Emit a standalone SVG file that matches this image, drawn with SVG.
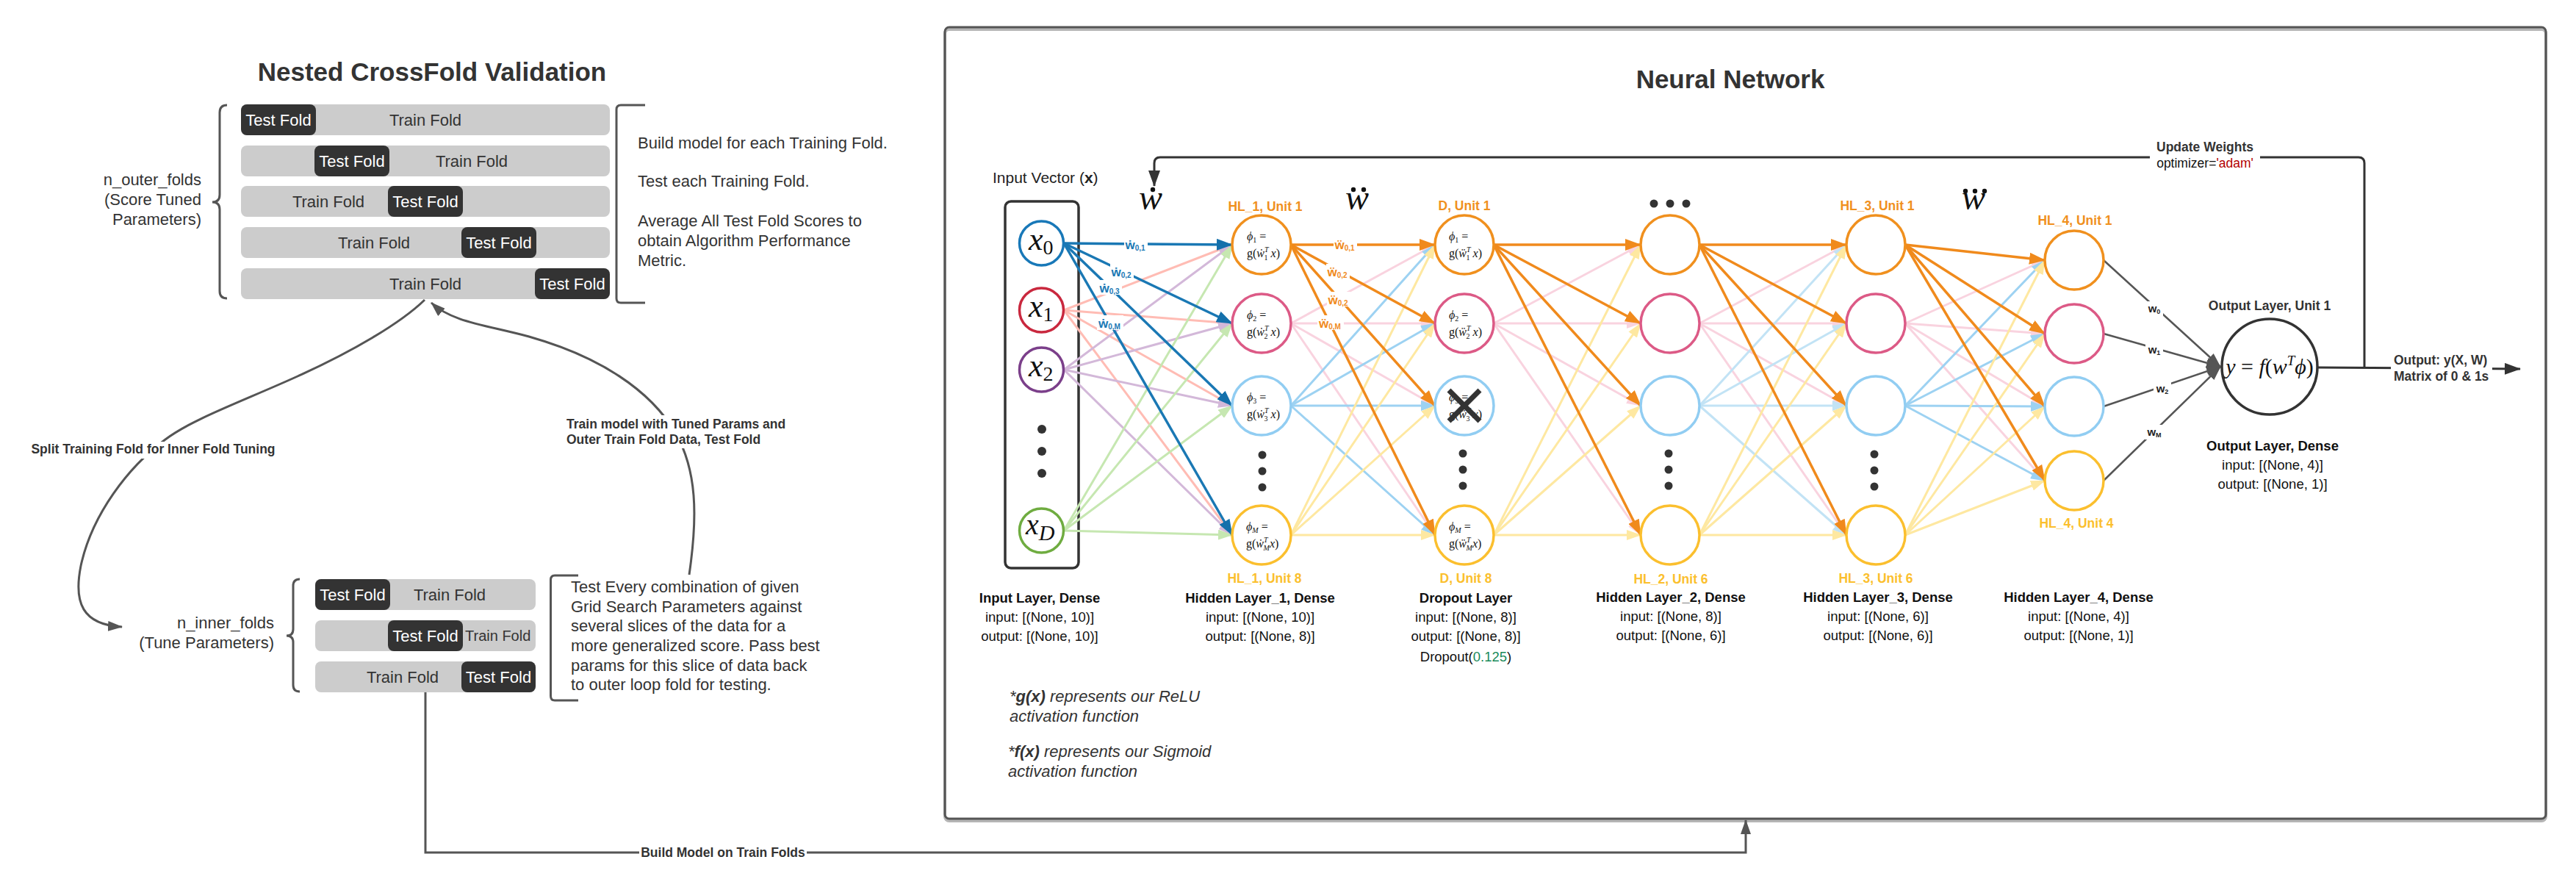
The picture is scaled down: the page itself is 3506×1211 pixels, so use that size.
<svg xmlns="http://www.w3.org/2000/svg" width="3506" height="1211" viewBox="0 0 3506 1211">
<defs>
<marker id="m-blue" markerUnits="userSpaceOnUse" markerWidth="22" markerHeight="16" refX="21" refY="8" orient="auto"><path d="M0,0 L22,8 L0,16 z" fill="#1470ab"/></marker>
<marker id="m-orange" markerUnits="userSpaceOnUse" markerWidth="22" markerHeight="16" refX="21" refY="8" orient="auto"><path d="M0,0 L22,8 L0,16 z" fill="#f08a1c"/></marker>
<marker id="m-salmon" markerUnits="userSpaceOnUse" markerWidth="20" markerHeight="14" refX="19" refY="7" orient="auto"><path d="M0,0 L20,7 L0,14 z" fill="#ffbcb4"/></marker>
<marker id="m-lav" markerUnits="userSpaceOnUse" markerWidth="20" markerHeight="14" refX="19" refY="7" orient="auto"><path d="M0,0 L20,7 L0,14 z" fill="#d3b8d9"/></marker>
<marker id="m-green" markerUnits="userSpaceOnUse" markerWidth="20" markerHeight="14" refX="19" refY="7" orient="auto"><path d="M0,0 L20,7 L0,14 z" fill="#c6e7b1"/></marker>
<marker id="m-pink" markerUnits="userSpaceOnUse" markerWidth="20" markerHeight="14" refX="19" refY="7" orient="auto"><path d="M0,0 L20,7 L0,14 z" fill="#f9d3df"/></marker>
<marker id="m-lblue" markerUnits="userSpaceOnUse" markerWidth="20" markerHeight="14" refX="19" refY="7" orient="auto"><path d="M0,0 L20,7 L0,14 z" fill="#9dd2f2"/></marker>
<marker id="m-pblue" markerUnits="userSpaceOnUse" markerWidth="20" markerHeight="14" refX="19" refY="7" orient="auto"><path d="M0,0 L20,7 L0,14 z" fill="#c2e3f5"/></marker>
<marker id="m-yellow" markerUnits="userSpaceOnUse" markerWidth="20" markerHeight="14" refX="19" refY="7" orient="auto"><path d="M0,0 L20,7 L0,14 z" fill="#fee8a1"/></marker>
<marker id="m-gray" markerUnits="userSpaceOnUse" markerWidth="20" markerHeight="14" refX="19" refY="7" orient="auto"><path d="M0,0 L20,7 L0,14 z" fill="#555555"/></marker>
<marker id="m-dark" markerUnits="userSpaceOnUse" markerWidth="22" markerHeight="16" refX="21" refY="8" orient="auto"><path d="M0,0 L22,8 L0,16 z" fill="#333333"/></marker>
</defs>
<style>
text{font-family:"Liberation Sans",Arial,sans-serif}
.t22{font-size:22px;fill:#333}
.title{font-size:35px;font-weight:bold;fill:#333}
.lbl{font-size:17.5px;font-weight:bold;fill:#333}
.bar{fill:#cccccc}
.test{fill:#333333}
.tw{font-size:22px;fill:#ffffff;text-anchor:middle}
.tr{font-size:22px;fill:#333;text-anchor:middle}
.brace{fill:none;stroke:#555;stroke-width:3}
.conn{fill:none;stroke:#555;stroke-width:3}
.e{stroke-width:3}
.et{stroke-width:3.5}
.blue{stroke:#1a78b4;marker-end:url(#m-blue)}
.orange{stroke:#f08a1c;marker-end:url(#m-orange)}
.salmon{stroke:#ffbcb4;marker-end:url(#m-salmon)}
.lav{stroke:#d3b8d9;marker-end:url(#m-lav)}
.green{stroke:#c6e7b1;marker-end:url(#m-green)}
.pink{stroke:#f9d3df;marker-end:url(#m-pink)}
.lblue{stroke:#9dd2f2;marker-end:url(#m-lblue)}
.pblue{stroke:#c2e3f5;marker-end:url(#m-pblue)}
.yellow{stroke:#fee8a1;marker-end:url(#m-yellow)}
.gray{stroke:#555555;stroke-width:2.5;marker-end:url(#m-gray)}
.node{fill:#ffffff;stroke-width:3.5}
.m{font-family:"Liberation Serif","DejaVu Serif",serif;font-size:16px;fill:#111}
.serif{font-family:"Liberation Serif","DejaVu Serif",serif;fill:#111}
.big{font-size:48px;font-style:italic;text-anchor:middle}
.xin{font-size:44px;font-style:italic}
.ul{font-size:17.5px;font-weight:bold;text-anchor:middle}
.lh{font-size:18.5px;font-weight:bold;fill:#111;text-anchor:middle}
.ls{font-size:18.5px;fill:#111;text-anchor:middle}
.wl{font-size:17px;font-weight:bold;text-anchor:middle}
.ws{font-size:10px}
.dot{fill:#333}
.bg{fill:#ffffff}
.it{font-size:22px;font-style:italic;fill:#333}
</style>
<rect width="3506" height="1211" fill="#ffffff"/>

<!-- Left panel: Nested CrossFold Validation -->
<text class="title" x="588" y="110" text-anchor="middle">Nested CrossFold Validation</text>

<g id="outer-folds">
<g id="outer-row1"><rect class="bar" x="328" y="142" width="502" height="42" rx="8"/><rect class="test" x="328" y="142" width="102" height="42" rx="8"/><text class="tw" x="379" y="171">Test Fold</text><text class="tr" x="579" y="171">Train Fold</text></g>
<g id="outer-row2"><rect class="bar" x="328" y="198" width="502" height="42" rx="8"/><rect class="test" x="428" y="198" width="102" height="42" rx="8"/><text class="tw" x="479" y="227">Test Fold</text><text class="tr" x="642" y="227">Train Fold</text></g>
<g id="outer-row3"><rect class="bar" x="328" y="253" width="502" height="42" rx="8"/><rect class="test" x="528" y="253" width="102" height="42" rx="8"/><text class="tw" x="579" y="282">Test Fold</text><text class="tr" x="447" y="282">Train Fold</text></g>
<g id="outer-row4"><rect class="bar" x="328" y="309" width="502" height="42" rx="8"/><rect class="test" x="628" y="309" width="102" height="42" rx="8"/><text class="tw" x="679" y="338">Test Fold</text><text class="tr" x="509" y="338">Train Fold</text></g>
<g id="outer-row5"><rect class="bar" x="328" y="365" width="502" height="42" rx="8"/><rect class="test" x="728" y="365" width="102" height="42" rx="8"/><text class="tw" x="779" y="394">Test Fold</text><text class="tr" x="579" y="394">Train Fold</text></g>
</g>

<g id="outer-label">
<path class="brace" d="M309,143 Q299,143 299,153 L299,265 Q299,275 289,275 Q299,275 299,285 L299,396 Q299,406 309,406"/>
<text class="t22" x="274" y="252" text-anchor="end">n_outer_folds</text>
<text class="t22" x="274" y="279" text-anchor="end">(Score Tuned</text>
<text class="t22" x="274" y="306" text-anchor="end">Parameters)</text>
</g>

<g id="outer-note">
<path class="brace" stroke-width="3.5" d="M878,143 L845,143 Q839,143 839,149 L839,406 Q839,412 845,412 L878,412"/>
<text class="t22" x="868" y="202">Build model for each Training Fold.</text>
<text class="t22" x="868" y="254">Test each Training Fold.</text>
<text class="t22" x="868" y="308">Average All Test Fold Scores to</text>
<text class="t22" x="868" y="335">obtain Algorithm Performance</text>
<text class="t22" x="868" y="362">Metric.</text>
</g>

<g id="inner-folds">
<g id="inner-row1"><rect class="bar" x="429" y="788" width="300" height="42" rx="8"/><rect class="test" x="429" y="788" width="102" height="42" rx="8"/><text class="tw" x="480" y="817">Test Fold</text><text class="tr" x="612" y="817">Train Fold</text></g>
<g id="inner-row2"><rect class="bar" x="429" y="844" width="300" height="42" rx="8"/><rect class="test" x="528" y="844" width="102" height="42" rx="8"/><text class="tw" x="579" y="873">Test Fold</text><text x="633" y="872" font-size="20" fill="#333">Train Fold</text></g>
<g id="inner-row3"><rect class="bar" x="429" y="900" width="300" height="42" rx="8"/><rect class="test" x="628" y="900" width="101" height="42" rx="8"/><text class="tw" x="678.5" y="929">Test Fold</text><text class="tr" x="548" y="929">Train Fold</text></g>
</g>

<g id="inner-label">
<path class="brace" d="M408,788 Q399,788 399,797 L399,856 Q399,865 390,865 Q399,865 399,874 L399,932 Q399,941 408,941"/>
<text class="t22" x="373" y="855" text-anchor="end">n_inner_folds</text>
<text class="t22" x="373" y="882" text-anchor="end">(Tune Parameters)</text>
</g>

<g id="inner-note">
<path class="brace" stroke-width="3.5" d="M787,783 L755,783 Q749.5,783 749.5,789 L749.5,947 Q749.5,953 755,953 L787,953"/>
<text class="t22" x="777" y="806">Test Every combination of given</text>
<text class="t22" x="777" y="833">Grid Search Parameters against</text>
<text class="t22" x="777" y="859">several slices of the data for a</text>
<text class="t22" x="777" y="886">more generalized score. Pass best</text>
<text class="t22" x="777" y="913">params for this slice of data back</text>
<text class="t22" x="777" y="939">to outer loop fold for testing.</text>
</g>

<!-- Neural network frame -->
<g id="nn-frame">
<rect x="1286" y="40" width="2179" height="1077" rx="6" fill="none" stroke="#b5b5b5" stroke-width="4"/>
<rect x="1286" y="37" width="2179" height="1077" rx="6" fill="none" stroke="#555" stroke-width="3"/>
<text class="title" x="2355" y="120" text-anchor="middle">Neural Network</text>
</g>

<g id="input-box">
<text x="1351" y="249" font-size="21" fill="#222">Input Vector (<tspan font-weight="bold">x</tspan>)</text>
<rect x="1368" y="274" width="100" height="499" rx="8" fill="none" stroke="#333" stroke-width="3.5"/>
</g>

<!-- connectors -->
<g id="connectors">
<path class="conn" d="M578,408 C545,440 480,478 405,512 C330,546 262,570 225,598 C175,635 125,700 110,770 C100,820 112,850 166,853" marker-end="url(#m-gray)"/>
<path class="conn" d="M938,782 C950,700 948,640 920,590 C885,530 815,485 720,458 C660,442 615,438 587,412" marker-end="url(#m-gray)"/>
<path class="conn" d="M579,942 L579,1160 L2376,1160 L2376,1116" marker-end="url(#m-gray)"/>
<path fill="none" stroke="#333" stroke-width="3" d="M3218,500 L3218,222 Q3218,214 3210,214 L1579,214 Q1571,214 1571,222 L1571,253" marker-end="url(#m-dark)"/>
<line x1="3154" y1="500" x2="3430" y2="502" stroke="#333" stroke-width="3" marker-end="url(#m-dark)"/>

<!-- input -> HL1 -->
<line class="e salmon" x1="1448" y1="422" x2="1677" y2="333"/>
<line class="e salmon" x1="1448" y1="422" x2="1677" y2="440"/>
<line class="e salmon" x1="1448" y1="422" x2="1677" y2="552"/>
<line class="e salmon" x1="1448" y1="422" x2="1677" y2="728"/>
<line class="e lav" x1="1448" y1="503" x2="1677" y2="333"/>
<line class="e lav" x1="1448" y1="503" x2="1677" y2="440"/>
<line class="e lav" x1="1448" y1="503" x2="1677" y2="552"/>
<line class="e lav" x1="1448" y1="503" x2="1677" y2="728"/>
<line class="e green" x1="1448" y1="722" x2="1677" y2="333"/>
<line class="e green" x1="1448" y1="722" x2="1677" y2="440"/>
<line class="e green" x1="1448" y1="722" x2="1677" y2="552"/>
<line class="e green" x1="1448" y1="722" x2="1677" y2="728"/>
<line class="et blue" x1="1448" y1="331" x2="1677" y2="333"/>
<line class="et blue" x1="1448" y1="331" x2="1677" y2="440"/>
<line class="et blue" x1="1448" y1="331" x2="1677" y2="552"/>
<line class="et blue" x1="1448" y1="331" x2="1677" y2="728"/>

<!-- HL1 -> Dropout -->
<line class="e pink" x1="1757" y1="440" x2="1953" y2="333"/>
<line class="e pink" x1="1757" y1="440" x2="1953" y2="440"/>
<line class="e pink" x1="1757" y1="440" x2="1953" y2="552"/>
<line class="e pink" x1="1757" y1="440" x2="1953" y2="728"/>
<line class="e lblue" x1="1757" y1="552" x2="1953" y2="333"/>
<line class="e lblue" x1="1757" y1="552" x2="1953" y2="440"/>
<line class="e lblue" x1="1757" y1="552" x2="1953" y2="552"/>
<line class="e lblue" x1="1757" y1="552" x2="1953" y2="728"/>
<line class="e yellow" x1="1757" y1="728" x2="1953" y2="333"/>
<line class="e yellow" x1="1757" y1="728" x2="1953" y2="440"/>
<line class="e yellow" x1="1757" y1="728" x2="1953" y2="552"/>
<line class="e yellow" x1="1757" y1="728" x2="1953" y2="728"/>
<line class="et orange" x1="1757" y1="333" x2="1953" y2="333"/>
<line class="et orange" x1="1757" y1="333" x2="1953" y2="440"/>
<line class="et orange" x1="1757" y1="333" x2="1953" y2="552"/>
<line class="et orange" x1="1757" y1="333" x2="1953" y2="728"/>

<!-- Dropout -> HL2 -->
<line class="e pink" x1="2033" y1="440" x2="2233" y2="333"/>
<line class="e pink" x1="2033" y1="440" x2="2233" y2="440"/>
<line class="e pink" x1="2033" y1="440" x2="2233" y2="552"/>
<line class="e pink" x1="2033" y1="440" x2="2233" y2="728"/>
<line class="e yellow" x1="2033" y1="728" x2="2233" y2="333"/>
<line class="e yellow" x1="2033" y1="728" x2="2233" y2="440"/>
<line class="e yellow" x1="2033" y1="728" x2="2233" y2="552"/>
<line class="e yellow" x1="2033" y1="728" x2="2233" y2="728"/>
<line class="et orange" x1="2033" y1="333" x2="2233" y2="333"/>
<line class="et orange" x1="2033" y1="333" x2="2233" y2="440"/>
<line class="et orange" x1="2033" y1="333" x2="2233" y2="552"/>
<line class="et orange" x1="2033" y1="333" x2="2233" y2="728"/>

<!-- HL2 -> HL3 -->
<line class="e pink" x1="2313" y1="440" x2="2513" y2="333"/>
<line class="e pink" x1="2313" y1="440" x2="2513" y2="440"/>
<line class="e pink" x1="2313" y1="440" x2="2513" y2="552"/>
<line class="e pink" x1="2313" y1="440" x2="2513" y2="728"/>
<line class="e pblue" x1="2313" y1="552" x2="2513" y2="333"/>
<line class="e pblue" x1="2313" y1="552" x2="2513" y2="440"/>
<line class="e pblue" x1="2313" y1="552" x2="2513" y2="552"/>
<line class="e pblue" x1="2313" y1="552" x2="2513" y2="728"/>
<line class="e yellow" x1="2313" y1="728" x2="2513" y2="333"/>
<line class="e yellow" x1="2313" y1="728" x2="2513" y2="440"/>
<line class="e yellow" x1="2313" y1="728" x2="2513" y2="552"/>
<line class="e yellow" x1="2313" y1="728" x2="2513" y2="728"/>
<line class="et orange" x1="2313" y1="333" x2="2513" y2="333"/>
<line class="et orange" x1="2313" y1="333" x2="2513" y2="440"/>
<line class="et orange" x1="2313" y1="333" x2="2513" y2="552"/>
<line class="et orange" x1="2313" y1="333" x2="2513" y2="728"/>

<!-- HL3 -> HL4 -->
<line class="e pink" x1="2593" y1="440" x2="2783" y2="354"/>
<line class="e pink" x1="2593" y1="440" x2="2783" y2="454"/>
<line class="e pink" x1="2593" y1="440" x2="2783" y2="553"/>
<line class="e pink" x1="2593" y1="440" x2="2783" y2="654"/>
<line class="e lblue" x1="2593" y1="552" x2="2783" y2="354"/>
<line class="e lblue" x1="2593" y1="552" x2="2783" y2="454"/>
<line class="e lblue" x1="2593" y1="552" x2="2783" y2="553"/>
<line class="e lblue" x1="2593" y1="552" x2="2783" y2="654"/>
<line class="e yellow" x1="2593" y1="728" x2="2783" y2="354"/>
<line class="e yellow" x1="2593" y1="728" x2="2783" y2="454"/>
<line class="e yellow" x1="2593" y1="728" x2="2783" y2="553"/>
<line class="e yellow" x1="2593" y1="728" x2="2783" y2="654"/>
<line class="et orange" x1="2593" y1="333" x2="2783" y2="354"/>
<line class="et orange" x1="2593" y1="333" x2="2783" y2="454"/>
<line class="et orange" x1="2593" y1="333" x2="2783" y2="553"/>
<line class="et orange" x1="2593" y1="333" x2="2783" y2="654"/>

<!-- HL4 -> output -->
<line class="gray" x1="2863" y1="354" x2="3022" y2="499"/>
<line class="gray" x1="2863" y1="454" x2="3022" y2="499"/>
<line class="gray" x1="2863" y1="553" x2="3022" y2="499"/>
<line class="gray" x1="2863" y1="654" x2="3022" y2="499"/>
</g>

<!-- connector labels -->
<g id="connector-labels">
<rect class="bg" x="38" y="601" width="342" height="23"/>
<text class="lbl" x="208.5" y="617" text-anchor="middle">Split Training Fold for Inner Fold Tuning</text>
<rect class="bg" x="767" y="565" width="310" height="45"/>
<text class="lbl" x="771" y="583">Train model with Tuned Params and</text>
<text class="lbl" x="771" y="604">Outer Train Fold Data, Test Fold</text>
<rect class="bg" x="870" y="1149" width="228" height="22"/>
<text class="lbl" x="984" y="1166" text-anchor="middle">Build Model on Train Folds</text>
<rect class="bg" x="2926" y="188" width="150" height="46"/>
<text class="lbl" x="3001" y="206" text-anchor="middle">Update Weights</text>
<text x="3001" y="228" font-size="17.5" fill="#111" text-anchor="middle">optimizer=<tspan fill="#b30000">'adam'</tspan></text>
<rect class="bg" x="3254" y="478" width="138" height="46"/>
<text class="lbl" x="3258" y="496">Output: y(X, W)</text>
<text class="lbl" x="3258" y="518">Matrix of 0 &amp; 1s</text>

<rect class="bg" x="1530" y="322" width="32" height="20"/>
<text class="wl" x="1545" y="339" fill="#1a78b4">ẇ<tspan class="ws" dy="2">0,1</tspan></text>
<rect class="bg" x="1511" y="359" width="32" height="20"/>
<text class="wl" x="1526" y="376" fill="#1a78b4">ẇ<tspan class="ws" dy="2">0,2</tspan></text>
<rect class="bg" x="1495" y="381" width="32" height="20"/>
<text class="wl" x="1510" y="398" fill="#1a78b4">ẇ<tspan class="ws" dy="2">0,3</tspan></text>
<rect class="bg" x="1493" y="429" width="36" height="20"/>
<text class="wl" x="1510" y="446" fill="#1a78b4">ẇ<tspan class="ws" dy="2">0,M</tspan></text>

<rect class="bg" x="1815" y="322" width="32" height="20"/>
<text class="wl" x="1830" y="339" fill="#f08a1c">ẅ<tspan class="ws" dy="2">0,1</tspan></text>
<rect class="bg" x="1805" y="359" width="32" height="20"/>
<text class="wl" x="1820" y="376" fill="#f08a1c">ẅ<tspan class="ws" dy="2">0,2</tspan></text>
<rect class="bg" x="1806" y="397" width="32" height="20"/>
<text class="wl" x="1821" y="414" fill="#f08a1c">ẅ<tspan class="ws" dy="2">0,2</tspan></text>
<rect class="bg" x="1793" y="429" width="36" height="20"/>
<text class="wl" x="1810" y="446" fill="#f08a1c">ẅ<tspan class="ws" dy="2">0,M</tspan></text>

<rect class="bg" x="2920" y="410" width="24" height="20"/>
<text x="2932" y="425" font-size="15" font-weight="bold" fill="#222" text-anchor="middle">w<tspan font-size="9" dy="2">0</tspan></text>
<rect class="bg" x="2920" y="466" width="24" height="20"/>
<text x="2932" y="481" font-size="15" font-weight="bold" fill="#222" text-anchor="middle">w<tspan font-size="9" dy="2">1</tspan></text>
<rect class="bg" x="2931" y="519" width="24" height="20"/>
<text x="2943" y="534" font-size="15" font-weight="bold" fill="#222" text-anchor="middle">w<tspan font-size="9" dy="2">2</tspan></text>
<rect class="bg" x="2919" y="578" width="26" height="20"/>
<text x="2932" y="593" font-size="15" font-weight="bold" fill="#222" text-anchor="middle">w<tspan font-size="9" dy="2">M</tspan></text>
</g>

<!-- weight matrix symbols -->
<g id="w-symbols">
<text class="serif big" x="1566" y="285">w</text>
<circle cx="1569" cy="258" r="3.2" fill="#111"/>
<text class="serif big" x="1847" y="285">w</text>
<circle cx="1842" cy="258" r="3.2" fill="#111"/><circle cx="1856" cy="258" r="3.2" fill="#111"/>
<text class="serif big" x="2686" y="285">w</text>
<circle cx="2675" cy="260" r="3.2" fill="#111"/><circle cx="2688" cy="260" r="3.2" fill="#111"/><circle cx="2701" cy="260" r="3.2" fill="#111"/>
</g>

<!-- Input layer nodes -->
<g id="input-x0"><circle class="node" cx="1417.5" cy="331" r="30" stroke="#1878b8"/><text class="serif xin" x="1400" y="340">x<tspan font-style="normal" font-size="28" dy="6">0</tspan></text></g>
<g id="input-x1"><circle class="node" cx="1417.5" cy="422" r="30" stroke="#c9283e"/><text class="serif xin" x="1400" y="431">x<tspan font-style="normal" font-size="28" dy="6">1</tspan></text></g>
<g id="input-x2"><circle class="node" cx="1417.5" cy="503" r="30" stroke="#7b3f8a"/><text class="serif xin" x="1400" y="512">x<tspan font-style="normal" font-size="28" dy="6">2</tspan></text></g>
<g id="input-dots"><circle class="dot" cx="1418" cy="584" r="6"/><circle class="dot" cx="1418" cy="614" r="6"/><circle class="dot" cx="1418" cy="644" r="6"/></g>
<g id="input-xD"><circle class="node" cx="1417.5" cy="722" r="30" stroke="#6fac40"/><text class="serif xin" x="1396" y="727" style="font-size:40px">x<tspan font-size="30" dy="8">D</tspan></text></g>
<g id="input-layer-label">
<text class="lh" x="1415" y="820">Input Layer, Dense</text>
<text class="ls" x="1415" y="846">input: [(None, 10)]</text>
<text class="ls" x="1415" y="872">output: [(None, 10)]</text>
</g>

<!-- Hidden layer 1 -->
<g id="hl1-u1"><text class="ul" x="1722" y="287" fill="#f0901e">HL_1, Unit 1</text><circle class="node" cx="1717" cy="333" r="40" stroke="#f0901e"/>
<text class="m" x="1697" y="327"><tspan font-style="italic">ϕ</tspan><tspan font-size="10" dy="3">1</tspan><tspan dy="-3"> =</tspan></text>
<text class="m" x="1697" y="350">g(<tspan font-style="italic">ẇ</tspan><tspan font-size="10" font-style="italic" dy="-7">T</tspan><tspan font-size="10" dx="-6" dy="11">1</tspan><tspan dy="-4" font-style="italic"> x</tspan>)</text></g>
<g id="hl1-u2"><circle class="node" cx="1717" cy="440" r="40" stroke="#dc5a86"/>
<text class="m" x="1697" y="434"><tspan font-style="italic">ϕ</tspan><tspan font-size="10" dy="3">2</tspan><tspan dy="-3"> =</tspan></text>
<text class="m" x="1697" y="457">g(<tspan font-style="italic">ẇ</tspan><tspan font-size="10" font-style="italic" dy="-7">T</tspan><tspan font-size="10" dx="-6" dy="11">2</tspan><tspan dy="-4" font-style="italic"> x</tspan>)</text></g>
<g id="hl1-u3"><circle class="node" cx="1717" cy="552" r="40" stroke="#91cdf2"/>
<text class="m" x="1697" y="546"><tspan font-style="italic">ϕ</tspan><tspan font-size="10" dy="3">3</tspan><tspan dy="-3"> =</tspan></text>
<text class="m" x="1697" y="569">g(<tspan font-style="italic">ẇ</tspan><tspan font-size="10" font-style="italic" dy="-7">T</tspan><tspan font-size="10" dx="-6" dy="11">3</tspan><tspan dy="-4" font-style="italic"> x</tspan>)</text></g>
<g id="hl1-dots"><circle class="dot" cx="1718" cy="619" r="5.5"/><circle class="dot" cx="1718" cy="641" r="5.5"/><circle class="dot" cx="1718" cy="663" r="5.5"/></g>
<g id="hl1-u8"><circle class="node" cx="1717" cy="728" r="40" stroke="#fbbf2e"/>
<text class="m" x="1696" y="722"><tspan font-style="italic">ϕ</tspan><tspan font-size="10" font-style="italic" dy="3">M</tspan><tspan dy="-3"> =</tspan></text>
<text class="m" x="1696" y="745">g(<tspan font-style="italic">ẇ</tspan><tspan font-size="10" font-style="italic" dy="-7">T</tspan><tspan font-size="10" font-style="italic" dx="-6" dy="11">M</tspan><tspan dy="-4" font-style="italic">x</tspan>)</text>
<text class="ul" x="1721" y="793" fill="#fbbf2e">HL_1, Unit 8</text></g>
<g id="hl1-label">
<text class="lh" x="1715" y="820">Hidden Layer_1, Dense</text>
<text class="ls" x="1715" y="846">input: [(None, 10)]</text>
<text class="ls" x="1715" y="872">output: [(None, 8)]</text>
</g>

<!-- Dropout layer -->
<g id="d-u1"><text class="ul" x="1993" y="286" fill="#f0901e">D, Unit 1</text><circle class="node" cx="1993" cy="333" r="40" stroke="#f0901e"/>
<text class="m" x="1972" y="327"><tspan font-style="italic">ϕ</tspan><tspan font-size="10" dy="3">1</tspan><tspan dy="-3"> =</tspan></text>
<text class="m" x="1972" y="350">g(<tspan font-style="italic">ẅ</tspan><tspan font-size="10" font-style="italic" dy="-7">T</tspan><tspan font-size="10" dx="-6" dy="11">1</tspan><tspan dy="-4" font-style="italic"> x</tspan>)</text></g>
<g id="d-u2"><circle class="node" cx="1993" cy="440" r="40" stroke="#dc5a86"/>
<text class="m" x="1972" y="434"><tspan font-style="italic">ϕ</tspan><tspan font-size="10" dy="3">2</tspan><tspan dy="-3"> =</tspan></text>
<text class="m" x="1972" y="457">g(<tspan font-style="italic">ẅ</tspan><tspan font-size="10" font-style="italic" dy="-7">T</tspan><tspan font-size="10" dx="-6" dy="11">2</tspan><tspan dy="-4" font-style="italic"> x</tspan>)</text></g>
<g id="d-u3"><circle class="node" cx="1993" cy="552" r="40" stroke="#91cdf2"/>
<text class="m" x="1972" y="546"><tspan font-style="italic">ϕ</tspan><tspan font-size="10" dy="3">3</tspan><tspan dy="-3"> =</tspan></text>
<text class="m" x="1972" y="569">g(<tspan font-style="italic">ẅ</tspan><tspan font-size="10" font-style="italic" dy="-7">T</tspan><tspan font-size="10" dx="-6" dy="11">3</tspan><tspan dy="-4" font-style="italic"> x</tspan>)</text>
<line x1="1972" y1="531" x2="2014" y2="573" stroke="#333" stroke-width="7"/><line x1="2014" y1="531" x2="1972" y2="573" stroke="#333" stroke-width="7"/></g>
<g id="d-dots"><circle class="dot" cx="1991" cy="617" r="5.5"/><circle class="dot" cx="1991" cy="639" r="5.5"/><circle class="dot" cx="1991" cy="661" r="5.5"/></g>
<g id="d-u8"><circle class="node" cx="1993" cy="728" r="40" stroke="#fbbf2e"/>
<text class="m" x="1972" y="722"><tspan font-style="italic">ϕ</tspan><tspan font-size="10" font-style="italic" dy="3">M</tspan><tspan dy="-3"> =</tspan></text>
<text class="m" x="1972" y="745">g(<tspan font-style="italic">ẅ</tspan><tspan font-size="10" font-style="italic" dy="-7">T</tspan><tspan font-size="10" font-style="italic" dx="-6" dy="11">M</tspan><tspan dy="-4" font-style="italic">x</tspan>)</text>
<text class="ul" x="1995" y="793" fill="#fbbf2e">D, Unit 8</text></g>
<g id="d-label">
<text class="lh" x="1995" y="820">Dropout Layer</text>
<text class="ls" x="1995" y="846">input: [(None, 8)]</text>
<text class="ls" x="1995" y="872">output: [(None, 8)]</text>
<text class="ls" x="1995" y="900">Dropout(<tspan fill="#1a8a5a">0.125</tspan>)</text>
</g>

<!-- Hidden layer 2 -->
<g id="hl2-topdots"><circle class="dot" cx="2251" cy="277" r="5.5"/><circle class="dot" cx="2273" cy="277" r="5.5"/><circle class="dot" cx="2295" cy="277" r="5.5"/></g>
<g id="hl2-u1"><circle class="node" cx="2273" cy="333" r="40" stroke="#f0901e"/></g>
<g id="hl2-u2"><circle class="node" cx="2273" cy="440" r="40" stroke="#dc5a86"/></g>
<g id="hl2-u3"><circle class="node" cx="2273" cy="552" r="40" stroke="#91cdf2"/></g>
<g id="hl2-dots"><circle class="dot" cx="2271" cy="617" r="5.5"/><circle class="dot" cx="2271" cy="639" r="5.5"/><circle class="dot" cx="2271" cy="661" r="5.5"/></g>
<g id="hl2-u6"><circle class="node" cx="2273" cy="728" r="40" stroke="#fbbf2e"/><text class="ul" x="2274" y="794" fill="#fbbf2e">HL_2, Unit 6</text></g>
<g id="hl2-label">
<text class="lh" x="2274" y="819">Hidden Layer_2, Dense</text>
<text class="ls" x="2274" y="845">input: [(None, 8)]</text>
<text class="ls" x="2274" y="871">output: [(None, 6)]</text>
</g>

<!-- Hidden layer 3 -->
<g id="hl3-u1"><text class="ul" x="2555" y="286" fill="#f0901e">HL_3, Unit 1</text><circle class="node" cx="2553" cy="333" r="40" stroke="#f0901e"/></g>
<g id="hl3-u2"><circle class="node" cx="2553" cy="440" r="40" stroke="#dc5a86"/></g>
<g id="hl3-u3"><circle class="node" cx="2553" cy="552" r="40" stroke="#91cdf2"/></g>
<g id="hl3-dots"><circle class="dot" cx="2551" cy="618" r="5.5"/><circle class="dot" cx="2551" cy="640" r="5.5"/><circle class="dot" cx="2551" cy="662" r="5.5"/></g>
<g id="hl3-u6"><circle class="node" cx="2553" cy="728" r="40" stroke="#fbbf2e"/><text class="ul" x="2553" y="793" fill="#fbbf2e">HL_3, Unit 6</text></g>
<g id="hl3-label">
<text class="lh" x="2556" y="819">Hidden Layer_3, Dense</text>
<text class="ls" x="2556" y="845">input: [(None, 6)]</text>
<text class="ls" x="2556" y="871">output: [(None, 6)]</text>
</g>

<!-- Hidden layer 4 -->
<g id="hl4-u1"><text class="ul" x="2824" y="306" fill="#f0901e">HL_4, Unit 1</text><circle class="node" cx="2823" cy="354" r="40" stroke="#f0901e"/></g>
<g id="hl4-u2"><circle class="node" cx="2823" cy="454" r="40" stroke="#dc5a86"/></g>
<g id="hl4-u3"><circle class="node" cx="2823" cy="553" r="40" stroke="#91cdf2"/></g>
<g id="hl4-u4"><circle class="node" cx="2823" cy="654" r="40" stroke="#fbbf2e"/><text class="ul" x="2826" y="718" fill="#fbbf2e">HL_4, Unit 4</text></g>
<g id="hl4-label">
<text class="lh" x="2829" y="819">Hidden Layer_4, Dense</text>
<text class="ls" x="2829" y="845">input: [(None, 4)]</text>
<text class="ls" x="2829" y="871">output: [(None, 1)]</text>
</g>

<!-- Output layer -->
<g id="output-u1">
<text class="lbl" x="3089" y="422" text-anchor="middle">Output Layer, Unit 1</text>
<circle class="node" cx="3089" cy="499" r="65" stroke="#333"/>
<text class="m" x="3089" y="509" style="font-size:30px" text-anchor="middle"><tspan font-style="italic">y</tspan> = <tspan font-style="italic">f</tspan>(<tspan font-style="italic">w</tspan><tspan font-size="19" font-style="italic" dy="-12">T</tspan><tspan dy="12" font-style="italic">ϕ</tspan>)</text>
</g>
<g id="output-label">
<text class="lh" x="3093" y="613">Output Layer, Dense</text>
<text class="ls" x="3093" y="639">input: [(None, 4)]</text>
<text class="ls" x="3093" y="665">output: [(None, 1)]</text>
</g>

<!-- footnotes -->
<g id="footnotes">
<text class="it" x="1374" y="955">*<tspan font-weight="bold">g(x)</tspan> represents our ReLU</text>
<text class="it" x="1374" y="982">activation function</text>
<text class="it" x="1372" y="1030">*<tspan font-weight="bold">f(x)</tspan> represents our Sigmoid</text>
<text class="it" x="1372" y="1057">activation function</text>
</g>
</svg>
